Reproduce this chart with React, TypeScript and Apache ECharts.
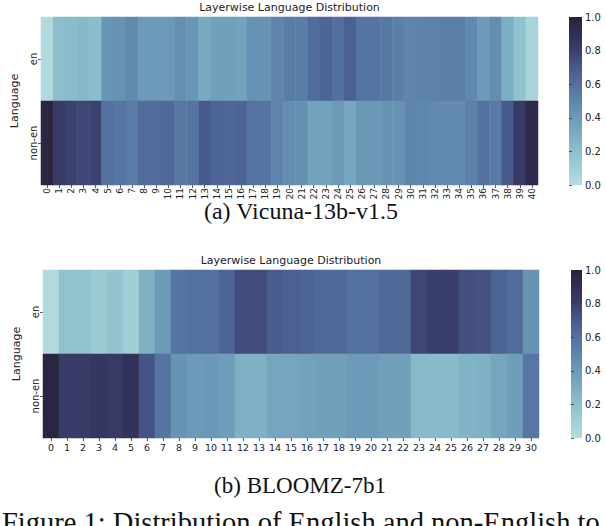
import React, { useEffect, useRef } from "react";
import * as echarts from "echarts";

const languages = ["en", "non-en"];

const vicunaLayers = [
  "0", "1", "2", "3", "4", "5", "6", "7", "8", "9", "10", "11", "12", "13", "14", "15", "16", "17", "18", "19", "20",
  "21", "22", "23", "24", "25", "26", "27", "28", "29", "30", "31", "32", "33", "34", "35", "36", "37", "38", "39", "40",
];
const vicunaEn = [
  0.02, 0.2, 0.22, 0.24, 0.21, 0.42, 0.44, 0.48, 0.4, 0.4, 0.4, 0.45, 0.42, 0.32, 0.37, 0.37, 0.36, 0.44, 0.43, 0.5, 0.54,
  0.54, 0.62, 0.65, 0.6, 0.67, 0.58, 0.58, 0.56, 0.53, 0.5, 0.51, 0.52, 0.53, 0.53, 0.48, 0.4, 0.46, 0.3, 0.18, 0.07,
];
const vicunaNonEn = [
  0.97, 0.82, 0.79, 0.77, 0.79, 0.6, 0.57, 0.54, 0.62, 0.62, 0.63, 0.56, 0.58, 0.7, 0.65, 0.64, 0.65, 0.58, 0.58, 0.5, 0.46,
  0.45, 0.36, 0.36, 0.4, 0.33, 0.41, 0.41, 0.43, 0.43, 0.5, 0.49, 0.48, 0.47, 0.47, 0.52, 0.6, 0.55, 0.7, 0.82, 0.93,
];

const bloomzLayers = [
  "0", "1", "2", "3", "4", "5", "6", "7", "8", "9", "10", "11", "12", "13", "14", "15",
  "16", "17", "18", "19", "20", "21", "22", "23", "24", "25", "26", "27", "28", "29", "30",
];
const bloomzEn = [
  0.02, 0.18, 0.18, 0.13, 0.17, 0.1, 0.28, 0.4, 0.58, 0.6, 0.6, 0.65, 0.75, 0.75, 0.69, 0.67,
  0.66, 0.63, 0.63, 0.6, 0.6, 0.63, 0.63, 0.77, 0.8, 0.8, 0.74, 0.73, 0.66, 0.62, 0.43,
];
const bloomzNonEn = [
  0.97, 0.82, 0.82, 0.85, 0.83, 0.88, 0.72, 0.58, 0.43, 0.4, 0.41, 0.38, 0.28, 0.28, 0.34, 0.34,
  0.36, 0.37, 0.37, 0.4, 0.4, 0.37, 0.37, 0.23, 0.22, 0.22, 0.26, 0.27, 0.34, 0.38, 0.57,
];

const palette = [
  "#b5dde0", "#a1cfd6", "#8dbfcd", "#7badc3", "#6c9ab8", "#5f85ac",
  "#53709f", "#475a8c", "#3a3e6d", "#312f55", "#27223a",
];

const FONT = "DejaVu Sans";
const SERIF = "Liberation Serif";

function cells(en: number[], nonEn: number[]) {
  const out: number[][] = [];
  en.forEach((v, i) => out.push([i, 0, v]));
  nonEn.forEach((v, i) => out.push([i, 1, v]));
  return out;
}

function gradient() {
  return new echarts.graphic.LinearGradient(
    0, 1, 0, 0,
    palette.map((c, i) => ({ offset: i / (palette.length - 1), color: c }))
  );
}

function catX(gridIndex: number, data: string[], rotate: number, fontSize: number, margin: number) {
  return {
    type: "category",
    gridIndex,
    data,
    axisLine: { show: false },
    axisTick: { show: true, alignWithLabel: true, length: 3, lineStyle: { color: "#333", width: 0.8 } },
    axisLabel: { interval: 0, rotate, fontSize, margin, color: "#222", fontFamily: FONT },
    splitLine: { show: false },
    splitArea: { show: false },
  };
}

function catY(gridIndex: number) {
  return {
    type: "category",
    gridIndex,
    data: languages,
    inverse: true,
    axisLine: { show: false },
    axisTick: { show: true, alignWithLabel: true, length: 3, lineStyle: { color: "#333", width: 0.8 } },
    axisLabel: { rotate: 90, fontSize: 10, margin: 3, color: "#222", fontFamily: FONT },
    name: "Language",
    nameLocation: "middle",
    nameRotate: 90,
    nameGap: 17,
    nameTextStyle: { fontSize: 11, color: "#222", fontFamily: FONT },
    splitArea: { show: false },
  };
}

function barX(gridIndex: number) {
  return { type: "value", gridIndex, show: false, min: 0, max: 1 };
}

function barY(gridIndex: number) {
  return {
    type: "value",
    gridIndex,
    position: "right",
    min: 0,
    max: 1,
    interval: 0.2,
    axisLine: { show: false },
    axisTick: { show: true, length: 3, lineStyle: { color: "#333", width: 0.8 } },
    axisLabel: { fontSize: 10, margin: 3, color: "#222", fontFamily: FONT, formatter: (v: number) => v.toFixed(1) },
    splitLine: { show: false },
  };
}

export default function App() {
  const ref = useRef<HTMLDivElement>(null);
  useEffect(() => {
    if (!ref.current) return;
    const chart = echarts.init(ref.current, undefined, { renderer: "svg" });
    chart.setOption({
      animation: false,
      backgroundColor: "#ffffff",
      grid: [
        { left: 41, top: 17, width: 497, height: 168 },
        { left: 43, top: 270, width: 496, height: 168 },
        { left: 569, top: 17, width: 13, height: 168 },
        { left: 571, top: 270, width: 11, height: 168 },
      ],
      xAxis: [
        catX(0, vicunaLayers, 90, 9, 3),
        catX(1, bloomzLayers, 0, 9.5, 4),
        barX(2),
        barX(3),
      ],
      yAxis: [catY(0), catY(1), barY(2), barY(3)],
      visualMap: [
        { type: "continuous", min: 0, max: 1, seriesIndex: 0, show: false, inRange: { color: palette } },
        { type: "continuous", min: 0, max: 1, seriesIndex: 1, show: false, inRange: { color: palette } },
      ],
      series: [
        { type: "heatmap", xAxisIndex: 0, yAxisIndex: 0, data: cells(vicunaEn, vicunaNonEn), itemStyle: { borderWidth: 0 } },
        { type: "heatmap", xAxisIndex: 1, yAxisIndex: 1, data: cells(bloomzEn, bloomzNonEn), itemStyle: { borderWidth: 0 } },
      ],
      graphic: [
        { type: "rect", shape: { x: 569, y: 17, width: 13, height: 168 }, style: { fill: gradient() } },
        { type: "rect", shape: { x: 571, y: 270, width: 11, height: 168 }, style: { fill: gradient() } },
        {
          type: "text", x: 289.5, y: 7,
          style: { text: "Layerwise Language Distribution", fontSize: 11, fontFamily: FONT, fill: "#222", textAlign: "center", textVerticalAlign: "middle" },
        },
        {
          type: "text", x: 291, y: 260,
          style: { text: "Layerwise Language Distribution", fontSize: 11, fontFamily: FONT, fill: "#222", textAlign: "center", textVerticalAlign: "middle" },
        },
        {
          type: "text", x: 301, y: 211,
          style: { text: "(a) Vicuna-13b-v1.5", fontSize: 24, fontFamily: SERIF, fill: "#111", textAlign: "center", textVerticalAlign: "middle" },
        },
        {
          type: "text", x: 300, y: 485,
          style: { text: "(b) BLOOMZ-7b1", fontSize: 23, fontFamily: SERIF, fill: "#111", textAlign: "center", textVerticalAlign: "middle" },
        },
        {
          type: "text", x: 2, y: 508,
          style: { text: "Figure 1: Distribution of English and non-English to", fontSize: 28.5, fontFamily: SERIF, fill: "#111", textAlign: "left", textVerticalAlign: "top" },
        },
      ],
    });
    return () => chart.dispose();
  }, []);
  return (
    <div style={{ position: "fixed", left: 0, top: 0, width: 606, height: 526, background: "#fff" }}>
      <div ref={ref} style={{ width: 606, height: 526 }} />
    </div>
  );
}
